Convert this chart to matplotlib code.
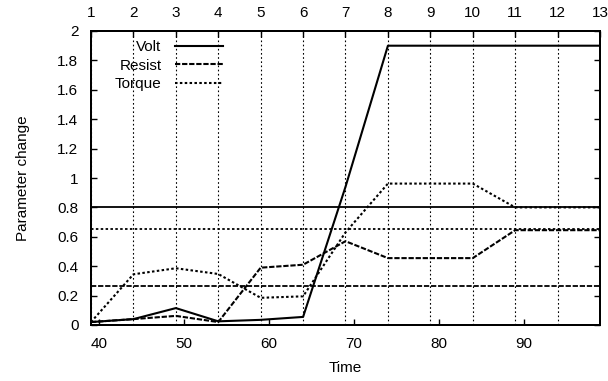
import matplotlib
matplotlib.use("Agg")
import matplotlib.pyplot as plt

plt.rcParams['font.family'] = ['Liberation Sans', 'DejaVu Sans']
plt.rcParams['lines.scale_dashes'] = False

# Data
time = [39, 44, 49, 54, 59, 64, 69, 74, 79, 84, 89, 94, 99]
volt = [0.02, 0.04, 0.115, 0.025, 0.035, 0.055, 0.94, 1.9, 1.9, 1.9, 1.9, 1.9, 1.9]
resist = [0.02, 0.04, 0.062, 0.02, 0.39, 0.41, 0.57, 0.455, 0.455, 0.455, 0.645, 0.645, 0.645]
torque = [0.02, 0.345, 0.386, 0.347, 0.185, 0.195, 0.63, 0.962, 0.962, 0.962, 0.80, 0.80, 0.80]
volt_ref = 0.80
resist_ref = 0.265
torque_ref = 0.655

bottom_ticks = [40, 50, 60, 70, 80, 90]
top_ticks = list(range(1, 14))
y_ticks = [0, 0.2, 0.4, 0.6, 0.8, 1, 1.2, 1.4, 1.6, 1.8, 2]
y_labels = ['0', '0.2', '0.4', '0.6', '0.8', '1', '1.2', '1.4', '1.6', '1.8', '2']

fig = plt.figure(figsize=(6.08, 3.81), dpi=100)
ax = fig.add_axes([91/608, 1 - 325/381, (600-91)/608, (325-31)/381])

resist_d = (3.8, 1.3)
torque_d = (1.8, 1.7)

ax.plot(time, volt, color='black', lw=1.5, label='Volt')
ax.plot(time, resist, color='black', lw=1.5, dashes=resist_d, label='Resist')
ax.plot(time, torque, color='black', lw=1.5, dashes=torque_d, label='Torque')

ax.axhline(volt_ref, color='black', lw=1.3)
ax.axhline(resist_ref, color='black', lw=1.3, dashes=resist_d)
ax.axhline(torque_ref, color='black', lw=1.3, dashes=torque_d)

ax.set_xlim(39, 99)
ax.set_ylim(0, 2)
ax.set_xticks(bottom_ticks)
ax.set_yticks(y_ticks)
ax.set_yticklabels(y_labels)
ax.tick_params(direction='in', length=4, width=1, labelsize=11, top=False, right=True)
ax.tick_params(axis='y', pad=9)
ax.tick_params(axis='x', pad=9)
ax.set_xlabel('Time', fontsize=11, labelpad=7)
ax.set_ylabel('Parameter change', fontsize=11, labelpad=20)

ax2 = ax.twiny()
ax2.set_xlim(1, 13)
ax2.set_xticks(top_ticks)
ax2.tick_params(direction='in', length=4, width=1, labelsize=11, pad=8)
ax2.xaxis.grid(True, linestyle=(0, (1.2, 1.8)), color='black', lw=0.8)

for a in (ax, ax2):
    for s in a.spines.values():
        s.set_linewidth(1.4)

leg = ax.legend(loc='upper left', frameon=False, markerfirst=False, fontsize=11,
                handlelength=3.1, handletextpad=0.9, labelspacing=0.3,
                bbox_to_anchor=(0.035, 0.99), borderaxespad=0.0)

fig.savefig('out.png', dpi=100)
